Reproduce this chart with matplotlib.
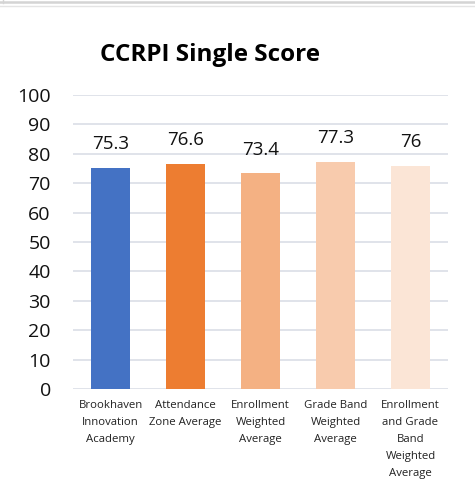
import matplotlib.pyplot as plt
from matplotlib.lines import Line2D

# -----------------------
# Data
# -----------------------
categories = [
    "Brookhaven\nInnovation\nAcademy",
    "Attendance\nZone Average",
    "Enrollment\nWeighted\nAverage",
    "Grade Band\nWeighted\nAverage",
    "Enrollment\nand Grade\nBand\nWeighted\nAverage",
]
scores = [75.3, 76.6, 73.4, 77.3, 76]
labels = ["75.3", "76.6", "73.4", "77.3", "76"]
colors = ["#4472C4", "#ED7D31", "#F4B183", "#F8CBAD", "#FBE5D6"]

plt.rcParams["font.family"] = ["Open Sans", "DejaVu Sans"]

# -----------------------
# Plot
# -----------------------
fig = plt.figure(figsize=(4.75, 4.9), dpi=100)
ax = fig.add_axes([73 / 475, 1 - 389 / 490, (448 - 73) / 475, (389 - 95) / 490])

x = range(len(categories))
ax.bar(x, scores, width=0.51, color=colors, zorder=3)

for xi, v, lab in zip(x, scores, labels):
    ax.text(xi, v + 5, lab, ha="center", va="bottom", fontsize=13.5, color="#111111")

ax.set_xlim(-0.5, len(categories) - 0.5)
ax.set_ylim(0, 100)
ax.set_yticks(range(0, 101, 10))
ax.tick_params(axis="y", length=0, labelsize=14, pad=16, labelcolor="#111111")
ax.set_xticks(list(x))
ax.set_xticklabels(categories, fontsize=8.2, linespacing=1.75)
ax.tick_params(axis="x", length=0, pad=8, labelcolor="#222222")
ax.yaxis.grid(True, color="#DDE1E8", linewidth=1.3, zorder=0)
for s in ax.spines.values():
    s.set_visible(False)

fig.text(0.442, 1 - 55 / 490, "CCRPI Single Score", ha="center", va="center",
         fontsize=17.5, fontweight="bold")

# light frame lines at top
fig.add_artist(Line2D([0, 1], [1 - 2.5 / 490, 1 - 2.5 / 490], color="#D4D4D4", linewidth=1.8))
fig.add_artist(Line2D([0, 1], [1 - 6 / 490, 1 - 6 / 490], color="#E4E4E4", linewidth=1))
fig.add_artist(Line2D([2.5 / 475, 2.5 / 475], [1, 1 - 3 / 490], color="#D4D4D4", linewidth=1))

fig.savefig("out.png", dpi=100)
